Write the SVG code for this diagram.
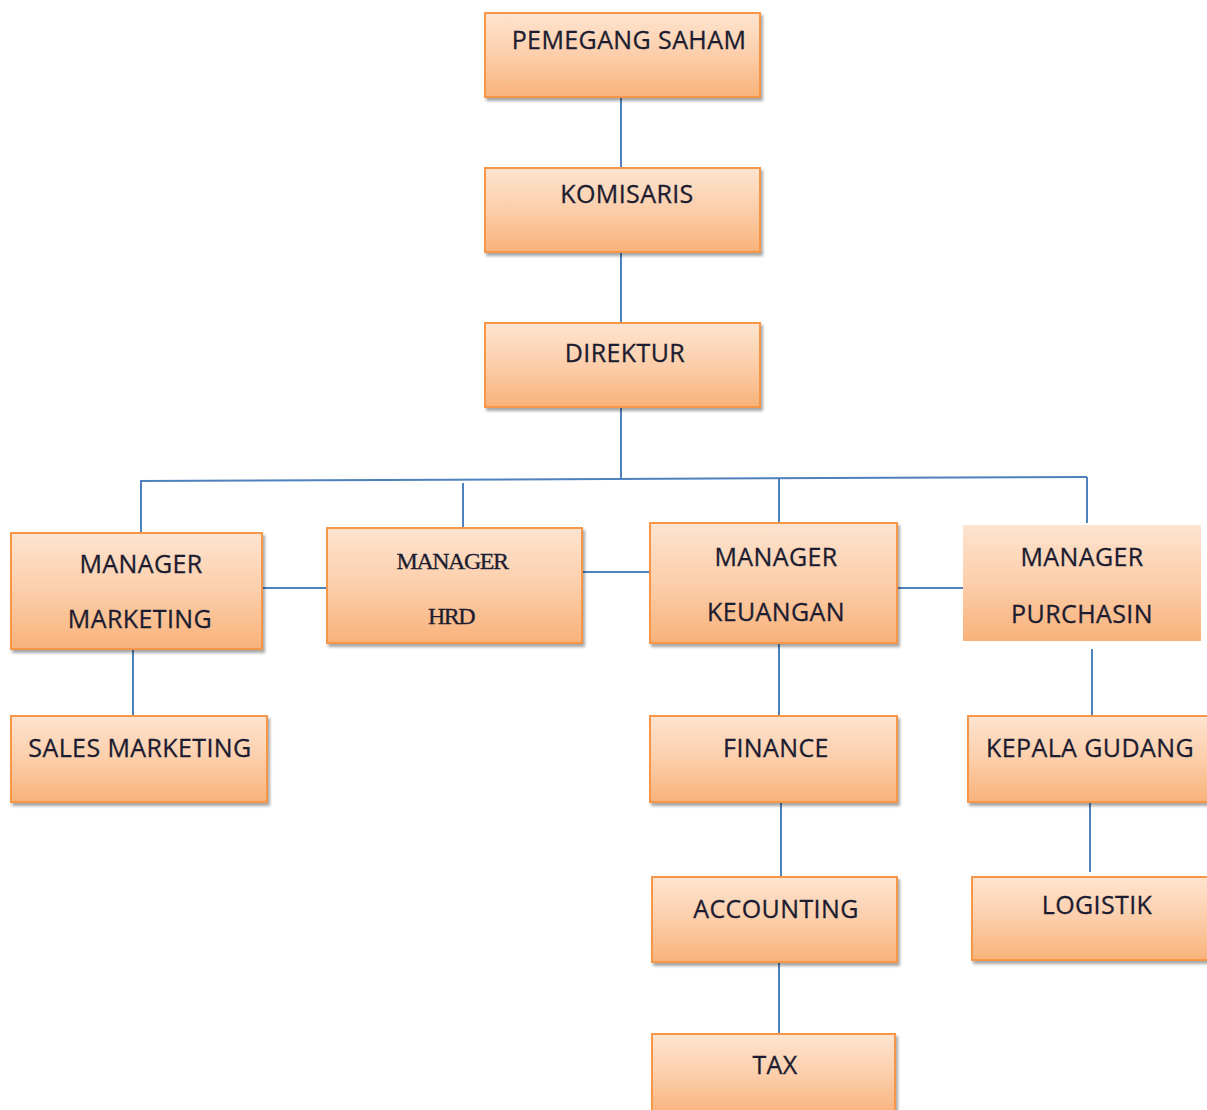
<svg xmlns="http://www.w3.org/2000/svg" width="1207" height="1110" viewBox="0 0 1207 1110">
<defs>
<linearGradient id="g" x1="0" y1="0" x2="0" y2="1">
<stop offset="0" stop-color="#fde4d0"/>
<stop offset="0.5" stop-color="#fcceaa"/>
<stop offset="1" stop-color="#f8b27a"/>
</linearGradient>
<filter id="sh" x="-5%" y="-5%" width="115%" height="125%">
<feDropShadow dx="2" dy="3" stdDeviation="1.5" flood-color="#000" flood-opacity="0.35"/>
</filter>
</defs>
<style>
.b{fill:url(#g);stroke:#f79646;stroke-width:2;filter:url(#sh)}
.nb{fill:url(#g);stroke:none}
.t{font-family:"Open Sans","Liberation Sans",sans-serif;font-size:25px;letter-spacing:0.4px;fill:#1c1c30;stroke:#1c1c30;stroke-width:0.3;text-anchor:middle}
.s{font-family:"Liberation Serif",serif;font-size:24px;fill:#1c1c30;stroke:#1c1c30;stroke-width:0.3;text-anchor:middle;letter-spacing:-1.5px}
.c{stroke:#4f81bd;stroke-width:2;fill:none}
</style>
<rect width="1207" height="1110" fill="#fff"/>
<g id="connectors">
<line class="c" x1="621" y1="97" x2="621" y2="168"/>
<line class="c" x1="621" y1="252" x2="621" y2="323"/>
<line class="c" x1="621" y1="407" x2="621" y2="478"/>
<line class="c" x1="140" y1="481" x2="1087" y2="477"/>
<line class="c" x1="141" y1="480" x2="141" y2="533"/>
<line class="c" x1="463" y1="483" x2="463" y2="528"/>
<line class="c" x1="779" y1="479" x2="779" y2="523"/>
<line class="c" x1="1087" y1="477" x2="1087" y2="523"/>
<line class="c" x1="262" y1="588" x2="327" y2="588"/>
<line class="c" x1="582" y1="572" x2="650" y2="572"/>
<line class="c" x1="897" y1="588" x2="963" y2="588"/>
<line class="c" x1="133" y1="649" x2="133" y2="716"/>
<line class="c" x1="779" y1="643" x2="779" y2="716"/>
<line class="c" x1="1092" y1="649" x2="1092" y2="716"/>
<line class="c" x1="781" y1="802" x2="781" y2="877"/>
<line class="c" x1="1090" y1="802" x2="1090" y2="872"/>
<line class="c" x1="779" y1="962" x2="779" y2="1034"/>
</g>
<g id="pemegang-saham"><rect class="b" x="485" y="13" width="275" height="84"/><text class="t" x="629" y="49">PEMEGANG SAHAM</text></g>
<g id="komisaris"><rect class="b" x="485" y="168" width="275" height="84"/><text class="t" x="627" y="203">KOMISARIS</text></g>
<g id="direktur"><rect class="b" x="485" y="323" width="275" height="84"/><text class="t" x="625" y="362">DIREKTUR</text></g>
<g id="manager-marketing"><rect class="b" x="11" y="533" width="251" height="116"/><text class="t" x="141" y="573">MANAGER</text><text class="t" x="140" y="628">MARKETING</text></g>
<g id="manager-hrd"><rect class="b" x="327" y="528" width="255" height="115"/><text class="s" x="452" y="569">MANAGER</text><text class="s" x="451" y="624">HRD</text></g>
<g id="manager-keuangan"><rect class="b" x="650" y="523" width="247" height="120"/><text class="t" x="776" y="566">MANAGER</text><text class="t" x="776" y="621">KEUANGAN</text></g>
<g id="manager-purchasin"><rect class="nb" x="963" y="525" width="238" height="116"/><text class="t" x="1082" y="566">MANAGER</text><text class="t" x="1082" y="623">PURCHASIN</text></g>
<g id="sales-marketing"><rect class="b" x="11" y="716" width="256" height="86"/><text class="t" x="140" y="757">SALES MARKETING</text></g>
<g id="finance"><rect class="b" x="650" y="716" width="247" height="86"/><text class="t" x="776" y="757">FINANCE</text></g>
<g id="kepala-gudang"><rect class="b" x="968" y="716" width="245" height="86"/><text class="t" x="1090" y="757">KEPALA GUDANG</text></g>
<g id="accounting"><rect class="b" x="652" y="877" width="245" height="85"/><text class="t" x="776" y="918">ACCOUNTING</text></g>
<g id="logistik"><rect class="b" x="972" y="877" width="241" height="83"/><text class="t" x="1097" y="914">LOGISTIK</text></g>
<g id="tax"><rect class="b" x="652" y="1034" width="243" height="82"/><text class="t" x="775" y="1074">TAX</text></g>
</svg>
